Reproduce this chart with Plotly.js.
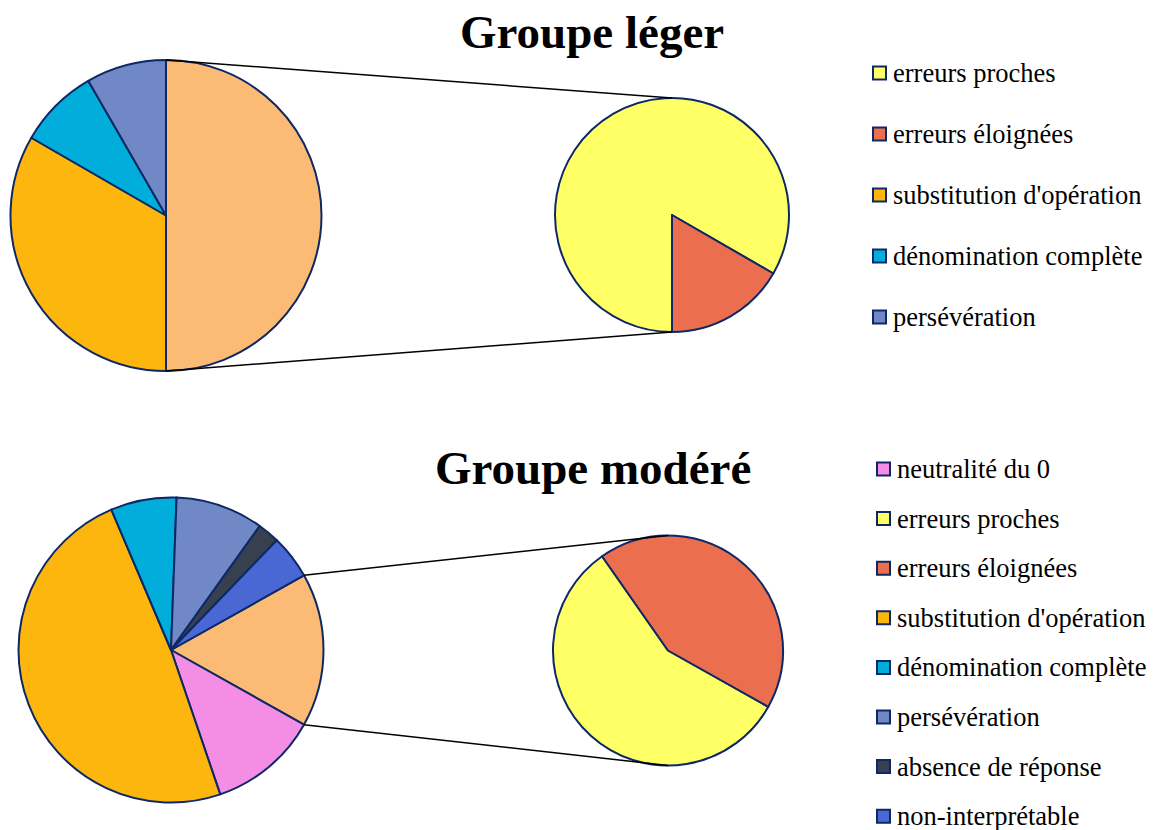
<!DOCTYPE html>
<html>
<head>
<meta charset="utf-8">
<script src="https://cdn.plot.ly/plotly-3.0.1.min.js"></script>
<style>html,body{margin:0;padding:0;background:#fff;}#chart{width:1153px;height:830px;}</style>
</head>
<body>
<div id="chart"></div>
<script>
// ---------- DATA ----------
const titles = ["Groupe léger", "Groupe modéré"];

// Groupe léger
const legerMainLabels = ["Autres", "substitution d'opération", "dénomination complète", "persévération"];
const legerMainValues = [6, 4, 1, 1];
const legerSubLabels = ["erreurs proches", "erreurs éloignées"];
const legerSubValues = [5, 1];
const legerLegend = ["erreurs proches", "erreurs éloignées", "substitution d'opération", "dénomination complète", "persévération"];

// Groupe modéré
const modereMainLabels = ["Autres", "neutralité du 0", "substitution d'opération", "dénomination complète", "persévération", "absence de réponse", "non-interprétable"];
const modereMainValues = [7, 5, 21, 3, 4, 1, 2];
const modereSubLabels = ["erreurs proches", "erreurs éloignées"];
const modereSubValues = [4, 3];
const modereLegend = ["neutralité du 0", "erreurs proches", "erreurs éloignées", "substitution d'opération", "dénomination complète", "persévération", "absence de réponse", "non-interprétable"];

// ---------- STYLE ----------
const colorMap = {
  "Autres": "#FBBB74",
  "neutralité du 0": "#F48DE4",
  "erreurs proches": "#FFFF66",
  "erreurs éloignées": "#EB6E4F",
  "substitution d'opération": "#FDB60D",
  "dénomination complète": "#00ADDB",
  "persévération": "#7089C6",
  "absence de réponse": "#36404F",
  "non-interprétable": "#4A68D3"
};
const W = 1153, H = 830;
const outline = "#0E2866";
const serif = "Liberation Serif, Times New Roman, serif";

function dom(cx, cy, r) {
  return { x: [(cx - r) / W, (cx + r) / W], y: [(H - cy - r) / H, (H - cy + r) / H] };
}
function px(x, y) { return [x / W, (H - y) / H]; }
function sum(a) { return a.reduce((s, v) => s + v, 0); }

const groups = [
  { mainL: legerMainLabels, mainV: legerMainValues, subL: legerSubLabels, subV: legerSubValues,
    main: { cx: 166, cy: 215.5, r: 155.5 }, sub: { cx: 672, cy: 215, r: 117 },
    title: { x: 592, y: 32 }, legend: legerLegend, leg: { x: 873, y0: 73, dy: 61, tx: 891 } },
  { mainL: modereMainLabels, mainV: modereMainValues, subL: modereSubLabels, subV: modereSubValues,
    main: { cx: 171, cy: 650, r: 152.5 }, sub: { cx: 668, cy: 650.5, r: 115 },
    title: { x: 593, y: 468 }, legend: modereLegend, leg: { x: 877, y0: 469, dy: 49.6, tx: 895 } }
];

const traces = [], shapes = [], annotations = [];
groups.forEach((g, gi) => {
  const total = sum(g.mainV);
  const otherAngle = g.mainV[0] / total * 360;
  const rotMain = 90 - otherAngle / 2;
  const rotSub = 180 - rotMain;
  traces.push({
    type: "pie", labels: g.mainL, values: g.mainV, sort: false, direction: "clockwise",
    rotation: rotMain, textinfo: "none", hoverinfo: "label+value", showlegend: false,
    domain: dom(g.main.cx, g.main.cy, g.main.r),
    marker: { colors: g.mainL.map(l => colorMap[l]), line: { color: outline, width: 2 } }
  });
  traces.push({
    type: "pie", labels: g.subL, values: g.subV, sort: false, direction: "clockwise",
    rotation: rotSub, textinfo: "none", hoverinfo: "label+value", showlegend: false,
    domain: dom(g.sub.cx, g.sub.cy, g.sub.r),
    marker: { colors: g.subL.map(l => colorMap[l]), line: { color: outline, width: 2 } }
  });
  // connector lines from the edges of the "Autres" slice to top/bottom of the secondary pie
  const a0 = rotMain * Math.PI / 180, a1 = (rotMain + otherAngle) * Math.PI / 180;
  const p0 = px(g.main.cx + g.main.r * Math.sin(a0), g.main.cy - g.main.r * Math.cos(a0));
  const p1 = px(g.main.cx + g.main.r * Math.sin(a1), g.main.cy - g.main.r * Math.cos(a1));
  const sTop = px(g.sub.cx, g.sub.cy - g.sub.r), sBot = px(g.sub.cx, g.sub.cy + g.sub.r);
  shapes.push({ type: "line", xref: "paper", yref: "paper", x0: p0[0], y0: p0[1], x1: sTop[0], y1: sTop[1], line: { color: "#000", width: 1.5 } });
  shapes.push({ type: "line", xref: "paper", yref: "paper", x0: p1[0], y0: p1[1], x1: sBot[0], y1: sBot[1], line: { color: "#000", width: 1.5 } });
  // title
  const tp = px(g.title.x, g.title.y);
  annotations.push({ xref: "paper", yref: "paper", x: tp[0], y: tp[1], xanchor: "center", yanchor: "middle",
    text: titles[gi], showarrow: false, font: { family: serif, size: 47, color: "#000", weight: "bold" } });
  // legend
  g.legend.forEach((lab, i) => {
    const cy = g.leg.y0 + i * g.leg.dy;
    const a = px(g.leg.x, cy - 6.5), b = px(g.leg.x + 13, cy + 6.5);
    shapes.push({ type: "rect", xref: "paper", yref: "paper", x0: a[0], y0: a[1], x1: b[0], y1: b[1],
      fillcolor: colorMap[lab], line: { color: outline, width: 2 } });
    const t = px(g.leg.tx, cy);
    annotations.push({ xref: "paper", yref: "paper", x: t[0], y: t[1], xanchor: "left", yanchor: "middle",
      text: lab, showarrow: false, font: { family: serif, size: 26.5, color: "#000" } });
  });
});

const layout = {
  width: W, height: H, margin: { l: 0, r: 0, t: 0, b: 0 },
  paper_bgcolor: "#fff", showlegend: false, shapes: shapes, annotations: annotations
};
Plotly.newPlot("chart", traces, layout, { displayModeBar: false, staticPlot: false });
</script>
</body>
</html>
